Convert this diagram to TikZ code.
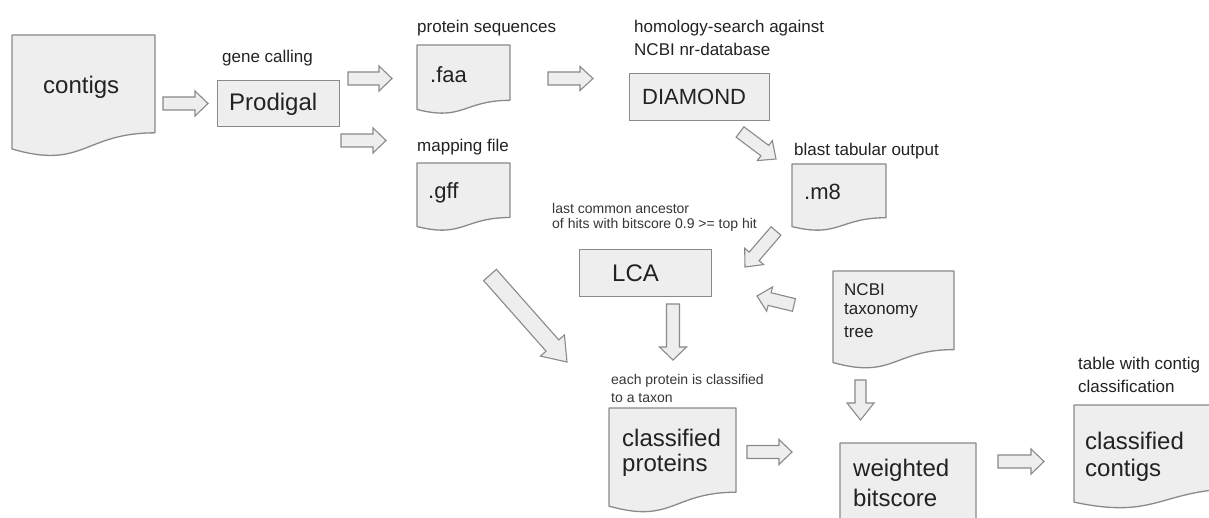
\documentclass[tikz,border=0pt]{standalone}
\usepackage{fontspec}
\setmainfont{Liberation Sans}
\usetikzlibrary{calc}
\definecolor{strokec}{HTML}{8A8A8A}
\definecolor{fillc}{HTML}{EEEEEE}
\definecolor{txt}{HTML}{222222}
\definecolor{txtsmall}{HTML}{363636}
\tikzset{
  boxst/.style={draw=strokec, fill=fillc, line width=1.3pt},
  docst/.style={draw=strokec, fill=fillc, line width=1.3pt, line join=round},
  blkst/.style={draw=strokec, fill=fillc, line width=1.1pt, line join=miter},
  bigtx/.style={font=\fontsize{24}{28}\selectfont, text=txt, inner sep=0pt, anchor=west},
  midtx/.style={font=\fontsize{22}{26}\selectfont, text=txt, inner sep=0pt, anchor=west},
  labtx/.style={font=\fontsize{17}{21}\selectfont, text=txt, inner sep=0pt, anchor=west},
  smalltx/.style={font=\fontsize{14}{17}\selectfont, text=txtsmall, inner sep=0pt, anchor=west},
}
% document shape: name, x, y, W, H
\newcommand\docshape[5]{%
  \coordinate (#1) at (#2,#3);
  \draw[docst] (#2,#3) -- ({#2+#4},#3) -- ({#2+#4},{#3+0.802*#5})
    .. controls ({#2+0.5*#4},{#3+0.802*#5}) and ({#2+0.5*#4},{#3+1.1075*#5}) ..
    (#2,{#3+0.934*#5}) -- cycle;}
% block arrow: start, end, shaft half width, head half width, head length
\newcommand\blkarrow[5]{%
  \path ($(#2)!#5!(#1)$) coordinate (tmpH);
  \draw[blkst] ($(#1)!#3!90:(#2)$) -- ($(tmpH)!#3!90:(#2)$) -- ($(tmpH)!#4!90:(#2)$)
    -- (#2) -- ($(tmpH)!#4!-90:(#2)$) -- ($(tmpH)!#3!-90:(#2)$) -- ($(#1)!#3!-90:(#2)$) -- cycle;}
\begin{document}
\begin{tikzpicture}[x=1pt,y=-1pt]
\useasboundingbox[fill=white] (0,0) rectangle (1209,518);
\clip (0,0) rectangle (1209,518);

% documents
\docshape{contigs}{12}{35}{143}{122}
\docshape{faa}{417}{45}{93}{69}
\docshape{gff}{417}{163}{93}{68}
\docshape{m8}{792}{164}{94}{67}
\docshape{ncbi}{833}{271}{121}{98}
\docshape{cprot}{609}{408}{127}{105}
\docshape{wbit}{840}{443}{136}{102}
\docshape{ccont}{1074}{405}{170}{104}

% process boxes
\node[boxst, anchor=north west, minimum width=122pt, minimum height=46pt, inner sep=0pt] (prodigal) at (217,80) {};
\node[boxst, anchor=north west, minimum width=140pt, minimum height=47pt, inner sep=0pt] (diamond) at (629,73) {};
\node[boxst, anchor=north west, minimum width=132pt, minimum height=47pt, inner sep=0pt] (lca) at (579,249) {};

% texts
\node[bigtx] (tcontigs) at (43,87) {contigs};
\node[labtx] (tgene) at (222,58) {gene calling};
\node[bigtx] (tprod) at (229,104) {Prodigal};
\node[labtx] (tprot) at (417,28) {protein sequences};
\node[midtx] (tfaa) at (430,75) {.faa};
\node[labtx] (tmap) at (417,147) {mapping file};
\node[midtx] (tgff) at (428,193) {.gff};
\node[labtx] (thom1) at (634,28) {homology-search against};
\node[labtx] (thom2) at (634,49) {NCBI nr-database};
\node[midtx] (tdia) at (642,97) {DIAMOND};
\node[labtx] (tblast) at (794,151) {blast tabular output};
\node[midtx] (tm8) at (804,192) {.m8};
\node[smalltx] (tlast1) at (552,208) {last common ancestor};
\node[smalltx] (tlast2) at (552,225) {of hits with bitscore 0.9 >= top hit};
\node[bigtx] (tlca) at (612,273) {LCA};
\node[labtx] (tncbi1) at (844,290) {NCBI};
\node[labtx] (tncbi2) at (844,311) {taxonomy};
\node[labtx] (tncbi3) at (844,332) {tree};
\node[smalltx] (teach1) at (611,381) {each protein is classified};
\node[smalltx] (teach2) at (611,398) {to a taxon};
\node[bigtx] (tcp1) at (622,438) {classified};
\node[bigtx] (tcp2) at (622,465) {proteins};
\node[bigtx] (twb1) at (853,470) {weighted};
\node[bigtx] (twb2) at (853,498) {bitscore};
\node[labtx] (ttab1) at (1078,365) {table with contig};
\node[labtx] (ttab2) at (1078,386) {classification};
\node[bigtx] (tcc1) at (1085,441) {classified};
\node[bigtx] (tcc2) at (1085,470) {contigs};

% arrow end points
\coordinate (a1s) at (163,103.5);  \coordinate (a1e) at (208,103.5);
\coordinate (a2s) at (348,78.5);   \coordinate (a2e) at (392,78.5);
\coordinate (a3s) at (341,140.5);  \coordinate (a3e) at (386,140.5);
\coordinate (a4s) at (548,78.5);   \coordinate (a4e) at (593,78.5);
\coordinate (a5s) at (740,132);    \coordinate (a5e) at (776,159);
\coordinate (a6s) at (776,231);    \coordinate (a6e) at (745,267);
\coordinate (a7s) at (794,305);    \coordinate (a7e) at (757,296);
\coordinate (a8s) at (490,275);    \coordinate (a8e) at (567,362);
\coordinate (a9s) at (673,304);    \coordinate (a9e) at (673,360);
\coordinate (a10s) at (860.5,380); \coordinate (a10e) at (860.5,420);
\coordinate (a11s) at (747,452);   \coordinate (a11e) at (792,452);
\coordinate (a12s) at (998,461.5); \coordinate (a12e) at (1044,461.5);

\blkarrow{a1s}{a1e}{6.5pt}{12.5pt}{13pt}
\blkarrow{a2s}{a2e}{6.5pt}{12.5pt}{13pt}
\blkarrow{a3s}{a3e}{6.5pt}{12.5pt}{13pt}
\blkarrow{a4s}{a4e}{6.5pt}{12pt}{13pt}
\blkarrow{a5s}{a5e}{6.5pt}{12.5pt}{14pt}
\blkarrow{a6s}{a6e}{6.5pt}{12.5pt}{14pt}
\blkarrow{a7s}{a7e}{6.5pt}{12.5pt}{13pt}
\blkarrow{a8s}{a8e}{8.5pt}{16pt}{22pt}
\blkarrow{a9s}{a9e}{6.5pt}{13.5pt}{13pt}
\blkarrow{a10s}{a10e}{5.5pt}{13.5pt}{17pt}
\blkarrow{a11s}{a11e}{6.5pt}{12.5pt}{13pt}
\blkarrow{a12s}{a12e}{6.5pt}{12.5pt}{13pt}
\end{tikzpicture}
\end{document}
